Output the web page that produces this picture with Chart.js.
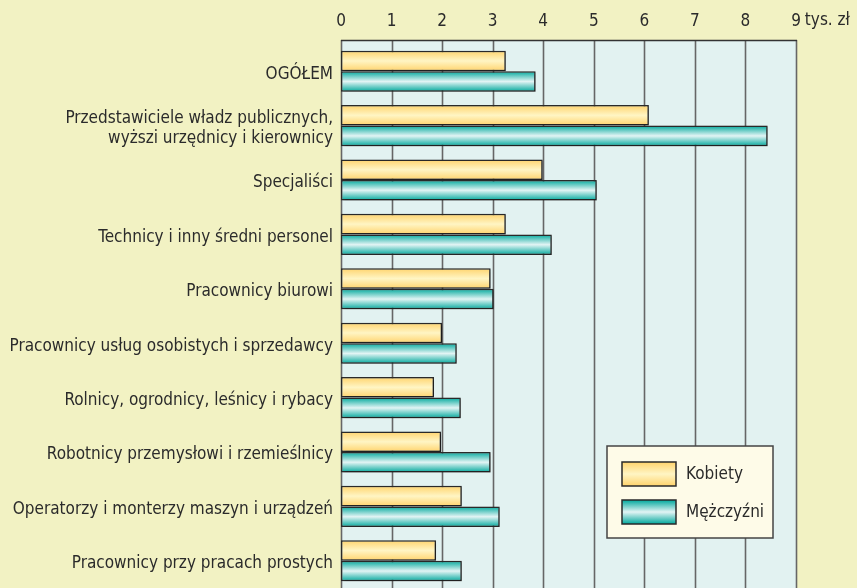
<!DOCTYPE html>
<html>
<head>
<meta charset="utf-8">
<script src="https://cdn.jsdelivr.net/npm/chart.js@4"></script>
<style>
  html, body { margin: 0; padding: 0; background: #f2f2c3; }
  #wrap { width: 857px; height: 588px; position: relative; }
</style>
</head>
<body>
<div id="wrap"><canvas id="wageChart"></canvas></div>
<script>
const FONT = "'Liberation Sans Narrow', 'DejaVu Sans Condensed', 'Arial Narrow', sans-serif";

const categories = [
    'OGÓŁEM',
    ['Przedstawiciele władz publicznych,', 'wyższi urzędnicy i kierownicy'],
    'Specjaliści',
    'Technicy i inny średni personel',
    'Pracownicy biurowi',
    'Pracownicy usług osobistych i sprzedawcy',
    'Rolnicy, ogrodnicy, leśnicy i rybacy',
    'Robotnicy przemysłowi i rzemieślnicy',
    'Operatorzy i monterzy maszyn i urządzeń',
    'Pracownicy przy pracach prostych'
];
const kobiety = [3.26, 6.09, 3.99, 3.26, 2.96, 2.00, 1.84, 1.98, 2.39, 1.88];
const mezczyzni = [3.85, 8.44, 5.06, 4.17, 3.02, 2.29, 2.37, 2.96, 3.14, 2.39];
const xTicks = [0, 1, 2, 3, 4, 5, 6, 7, 8, 9];
const unitLabel = 'tys. zł';

const yellowStops = ['#ffd36c', '#fff5c4'];
const tealStops = ['#00a89c', '#e2f4f4'];
const CAT_PCT = 0.755;

function barGradient(c, stops) {
    const chart = c.chart;
    const y = chart.scales.y;
    if (!chart.chartArea || !y || c.dataIndex === undefined) return stops[0];
    const band = y.height / categories.length;
    const h = band * CAT_PCT / 2;
    const center = y.getPixelForValue(c.dataIndex);
    const top = c.datasetIndex === 0 ? center - h : center;
    const g = chart.ctx.createLinearGradient(0, top, 0, top + h);
    g.addColorStop(0, stops[0]);
    g.addColorStop(0.5, stops[1]);
    g.addColorStop(1, stops[0]);
    return g;
}

const panelPlugin = {
    id: 'panel',
    beforeDatasetsDraw(chart) {
        const ctx = chart.ctx;
        const x = chart.scales.x;
        const left = chart.chartArea.left, right = chart.chartArea.right;
        const top = chart.chartArea.top - 4;
        ctx.save();
        ctx.fillStyle = '#e2f2f1';
        ctx.fillRect(left, top, right - left, chart.height - top);
        ctx.strokeStyle = '#666';
        ctx.lineWidth = 1.6;
        xTicks.forEach(v => {
            const px = Math.round(x.getPixelForValue(v)) + 0.5;
            ctx.beginPath();
            ctx.moveTo(px, top);
            ctx.lineTo(px, chart.height);
            ctx.stroke();
        });
        ctx.strokeStyle = '#333';
        ctx.beginPath();
        ctx.moveTo(left, top + 0.5);
        ctx.lineTo(right + 1, top + 0.5);
        ctx.stroke();
        ctx.restore();
    },
    beforeDatasetDraw(chart) {
        const ctx = chart.ctx;
        ctx.save();
        ctx.shadowColor = 'rgba(0,0,0,0.35)';
        ctx.shadowOffsetX = 2;
        ctx.shadowOffsetY = 1;
        ctx.shadowBlur = 2;
    },
    afterDatasetDraw(chart) {
        chart.ctx.restore();
    },
    afterDraw(chart) {
        const ctx = chart.ctx;
        const x = chart.scales.x;
        ctx.save();
        // unit after last tick
        ctx.font = '17px ' + FONT;
        ctx.fillStyle = '#2b2b2b';
        ctx.textBaseline = 'middle';
        const px9 = x.getPixelForValue(xTicks[xTicks.length - 1]);
        const w9 = ctx.measureText(String(xTicks[xTicks.length - 1])).width;
        ctx.textAlign = 'left';
        ctx.fillText(unitLabel, px9 + w9 / 2 + 4, 21);

        // legend box
        const bx = 607, by = 446, bw = 166, bh = 92;
        ctx.fillStyle = '#fefbe8';
        ctx.fillRect(bx, by, bw, bh);
        ctx.strokeStyle = '#444';
        ctx.lineWidth = 1.5;
        ctx.strokeRect(bx, by, bw, bh);
        const items = [
            { label: chart.data.datasets[0].label, stops: yellowStops, y: 462 },
            { label: chart.data.datasets[1].label, stops: tealStops, y: 500 }
        ];
        items.forEach(it => {
            const g = ctx.createLinearGradient(0, it.y, 0, it.y + 24);
            g.addColorStop(0, it.stops[0]);
            g.addColorStop(0.5, it.stops[1]);
            g.addColorStop(1, it.stops[0]);
            ctx.fillStyle = g;
            ctx.fillRect(622, it.y, 54, 24);
            ctx.strokeStyle = '#2a2a2a';
            ctx.strokeRect(622, it.y, 54, 24);
            ctx.fillStyle = '#2b2b2b';
            ctx.fillText(it.label, 686, it.y + 13);
        });
        ctx.restore();
    }
};

const chart = new Chart(document.getElementById('wageChart').getContext('2d'), {
    type: 'bar',
    data: {
        labels: categories,
        datasets: [{
            label: 'Kobiety',
            data: kobiety,
            backgroundColor: c => barGradient(c, yellowStops),
            borderColor: '#2a2a2a',
            borderWidth: 1.5,
            borderSkipped: false
        }, {
            label: 'Mężczyźni',
            data: mezczyzni,
            backgroundColor: c => barGradient(c, tealStops),
            borderColor: '#2a2a2a',
            borderWidth: 1.5,
            borderSkipped: false
        }]
    },
    options: {
        indexAxis: 'y',
        responsive: true,
        maintainAspectRatio: false,
        animation: false,
        datasets: {
            bar: { categoryPercentage: CAT_PCT, barPercentage: 1 }
        },
        layout: { padding: { top: 0, right: 61, bottom: 0, left: 0 } },
        plugins: {
            legend: { display: false },
            tooltip: { enabled: false }
        },
        scales: {
            x: {
                position: 'top',
                min: 0,
                max: 9,
                afterFit: s => { s.height = 44; s.paddingLeft = 0; s.paddingRight = 0; },
                afterBuildTicks: s => { s.ticks = xTicks.map(v => ({ value: v })); },
                grid: { display: false, drawTicks: false },
                border: { display: false },
                ticks: {
                    color: '#2b2b2b',
                    padding: 12,
                    maxRotation: 0,
                    font: { family: FONT, size: 17 }
                }
            },
            y: {
                afterFit: s => { s.width = 341; s.paddingTop = 0; s.paddingBottom = 0; },
                grid: { display: false, drawTicks: false },
                border: { display: false },
                ticks: {
                    color: '#2b2b2b',
                    padding: 8,
                    labelOffset: 3,
                    font: { family: FONT, size: 17, lineHeight: 1.2 }
                }
            }
        }
    },
    plugins: [panelPlugin]
});
</script>
</body>
</html>
